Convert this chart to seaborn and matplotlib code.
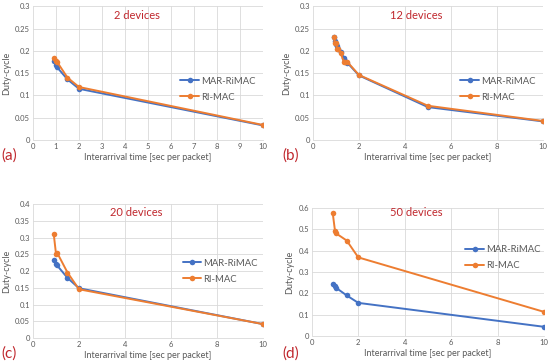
import numpy as np
import pandas as pd
import matplotlib
matplotlib.use('Agg')
import matplotlib.pyplot as plt
import seaborn as sns

sns.set_theme(style='whitegrid')
plt.rcParams['font.family'] = ['Lato', 'DejaVu Sans']

# data
x_a = [0.9, 1.0, 1.05, 1.5, 2, 10]
mar_a = [0.177, 0.168, 0.163, 0.136, 0.115, 0.033]
ri_a = [0.183, 0.178, 0.175, 0.140, 0.119, 0.034]

x_b = [0.9, 0.95, 1.0, 1.05, 1.1, 1.2, 1.35, 1.4, 1.5, 2, 5, 10]
mar_b = [0.230, 0.222, 0.215, 0.210, 0.205, 0.198, 0.185, 0.178, 0.173, 0.145, 0.074, 0.042]
ri_b = [0.232, 0.218, 0.218, 0.205, 0.205, 0.195, 0.175, 0.175, 0.175, 0.146, 0.077, 0.043]

x_c = [0.9, 1.0, 1.05, 1.5, 2, 10]
mar_c = [0.233, 0.222, 0.217, 0.180, 0.149, 0.042]
ri_c = [0.312, 0.252, 0.255, 0.196, 0.146, 0.042]

x_d = [0.9, 1.0, 1.05, 1.5, 2, 10]
mar_d = [0.245, 0.232, 0.225, 0.190, 0.155, 0.043]
ri_d = [0.575, 0.490, 0.480, 0.447, 0.368, 0.113]

titles = ['2 devices', '12 devices', '20 devices', '50 devices']
tags = ['(a)', '(b)', '(c)', '(d)']
series = ['MAR-RiMAC', 'RI-MAC']
colors = {'MAR-RiMAC': '#4472C4', 'RI-MAC': '#ED7D31'}

panels = [
    (x_a, mar_a, ri_a, [0.060, 0.615, 0.418, 0.368], 1, 0.3, 0.05),
    (x_b, mar_b, ri_b, [0.569, 0.615, 0.418, 0.368], 2, 0.3, 0.05),
    (x_c, mar_c, ri_c, [0.060, 0.071, 0.418, 0.368], 2, 0.4, 0.05),
    (x_d, mar_d, ri_d, [0.567, 0.077, 0.422, 0.352], 2, 0.6, 0.1),
]
tag_pos = [(0.003, 0.56), (0.514, 0.56), (0.003, 0.018), (0.514, 0.018)]
title_y = [0.93, 0.93, 0.94, 0.96]
legend_y = [0.38, 0.38, 0.50, 0.61]
legend_x = [0.62, 0.62, 0.63, 0.64]

fig = plt.figure(figsize=(5.5, 3.64), dpi=100)

for i, (xs, mar, ri, rect, xstep, ymax, ystep) in enumerate(panels):
    ax = fig.add_axes(rect)
    df = pd.DataFrame({
        'x': list(xs) * 2,
        'y': list(mar) + list(ri),
        'series': [series[0]] * len(xs) + [series[1]] * len(xs),
    })
    sns.lineplot(data=df, x='x', y='y', hue='series', palette=colors,
                 marker='o', markersize=4, markeredgewidth=0, linewidth=1.4,
                 sort=False, ax=ax)
    ax.set_xlim(0, 10)
    ax.set_ylim(0, ymax)
    ax.set_xticks(np.arange(0, 10.01, xstep))
    yt = np.round(np.arange(0, ymax + 1e-9, ystep), 2)
    ax.set_yticks(yt)
    ax.set_yticklabels([f'{v:g}' for v in yt])
    ax.tick_params(labelsize=5.5, colors='#595959', length=0, pad=2)
    ax.grid(True, color='#D9D9D9', linewidth=0.6)
    for s in ['top', 'right', 'left']:
        ax.spines[s].set_visible(False)
    ax.spines['bottom'].set_color('#D9D9D9')
    ax.spines['bottom'].set_linewidth(0.6)
    ax.set_xlabel('Interarrival time [sec per packet]', fontsize=6.5, color='#595959', labelpad=2)
    ax.set_ylabel('Duty-cycle', fontsize=6.5, color='#595959', labelpad=3)
    ax.text(0.45, title_y[i], titles[i], transform=ax.transAxes, ha='center', va='center',
            fontsize=8, color='#C0272D')
    leg = ax.legend(loc='center left', bbox_to_anchor=(legend_x[i], legend_y[i]), frameon=False,
                    fontsize=6.8, handlelength=2.0, labelspacing=0.75, borderpad=0, handletextpad=0.2)
    for t in leg.get_texts():
        t.set_color('#595959')
    fig.text(tag_pos[i][0], tag_pos[i][1], tags[i], fontsize=11, color='#C0272D')

fig.savefig('out.png', dpi=100)
